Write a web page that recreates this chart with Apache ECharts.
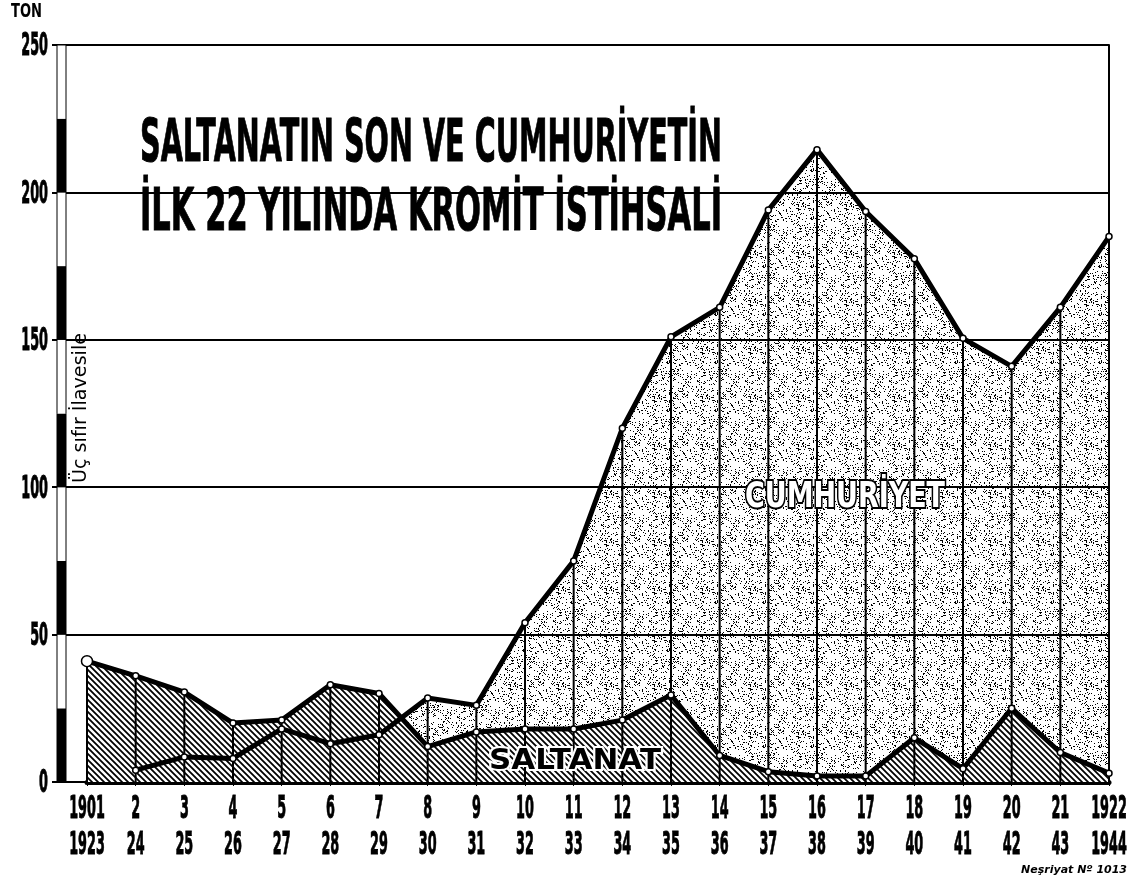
<!DOCTYPE html>
<html>
<head>
<meta charset="utf-8">
<script src="https://cdn.jsdelivr.net/npm/echarts@6/dist/echarts.min.js"></script>
<style>
  html, body { margin: 0; padding: 0; background: #fff; }
  #main { width: 1133px; height: 886px; }
</style>
</head>
<body>
<div id="main"></div>
<script>
// kategoriler: iki sira yil etiketi (Saltanat / Cumhuriyet)
var topYears = ['1901', '2', '3', '4', '5', '6', '7', '8', '9', '10', '11',
  '12', '13', '14', '15', '16', '17', '18', '19', '20', '21', '1922']
var bottomYears = ['1923', '24', '25', '26', '27', '28', '29', '30', '31', '32', '33',
  '34', '35', '36', '37', '38', '39', '40', '41', '42', '43', '1944']

// bin ton
var saltanat = [41, 36, 30.5, 20, 21, 33, 30, 12, 17, 18, 18, 21,
  29.5, 9, 3.5, 2, 2, 15, 4.5, 25, 10, 3]
var cumhuriyet = [null, 4, 8.5, 8, 18, 13, 16, 28.5, 26, 54, 75, 120,
  151, 161, 194, 214.5, 193.5, 177.5, 150.5, 141, 161, 185]

var yTicks = [0, 50, 100, 150, 200, 250]

// tarama deseni (saltanat)
function hatchPattern() {
  var s = 6
  var c = document.createElement('canvas')
  c.width = s
  c.height = s
  var g = c.getContext('2d')
  g.fillStyle = '#fff'
  g.fillRect(0, 0, s, s)
  g.strokeStyle = '#000'
  g.lineWidth = 1.8
  g.beginPath()
  g.moveTo(0, 0); g.lineTo(s, s)
  g.moveTo(-1, s - 1); g.lineTo(1, s + 1)
  g.moveTo(s - 1, -1); g.lineTo(s + 1, 1)
  g.stroke()
  return c
}

// noktali desen (cumhuriyet)
function stipplePattern() {
  var s = 48
  var c = document.createElement('canvas')
  c.width = s
  c.height = s
  var g = c.getContext('2d')
  g.fillStyle = '#000'
  for (var i = 0; i < s; i++) {
    for (var j = 0; j < s; j++) {
      var h = Math.imul(i * 73 + j * 151 + 17, 2654435761) >>> 0
      h = Math.imul(h ^ (h >>> 15), 2246822519) >>> 0
      h = (h ^ (h >>> 13)) >>> 0
      if (h % 100 < 13) g.fillRect(i, j, 1, 1)
    }
  }
  return c
}

var measureCtx = document.createElement('canvas').getContext('2d')
function fitScale(text, font, width) {
  measureCtx.font = font
  return width / measureCtx.measureText(text).width
}

var drops = saltanat.map(function (v, i) { return Math.max(v || 0, cumhuriyet[i] || 0) })
var salLineData = saltanat.map(function (v, i) {
  return i === 0 ? { value: v, symbolSize: 11 } : v
})

var titleFont = 'bold 59px "DejaVu Sans"'
var title1 = 'SALTANATIN SON VE CUMHURİYETİN'
var title2 = 'İLK 22 YILINDA KROMİT İSTİHSALİ'
var noteFont = '20px "DejaVu Sans"'
var note = 'Üç sıfır İlavesile'
var cumFont = 'bold 36px "DejaVu Sans"'
var salFont = 'bold 28px "DejaVu Sans"'
var tonFont = 'bold 19px "DejaVu Sans"'
var tickFont = 'bold 32px "DejaVu Sans"'
var TICK_SCALE = 0.4

var myChart = echarts.init(document.getElementById('main'))

var option = {
  animation: false,
  backgroundColor: '#fff',
  grid: [
    { left: 87, right: 24, top: 45, bottom: 104 },
    { left: 52, width: 35, top: 45, bottom: 104 },
    { left: 57, width: 9, top: 45, bottom: 104, show: true, borderColor: '#000', borderWidth: 1, z: 5 },
  ],
  xAxis: [
    {
      gridIndex: 0,
      type: 'category',
      data: topYears,
      boundaryGap: false,
      axisLine: { lineStyle: { color: '#000', width: 5 } },
      axisTick: { show: true, length: 4, lineStyle: { color: '#000', width: 1 } },
      axisLabel: { show: false },
      splitLine: { show: false },
    },
    { gridIndex: 1, type: 'value', show: false },
    { gridIndex: 2, type: 'value', show: false },
  ],
  yAxis: [
    {
      gridIndex: 0,
      type: 'value',
      min: 0,
      max: 250,
      interval: 50,
      axisLine: { show: false },
      axisTick: { show: false },
      axisLabel: { show: false },
      splitLine: { lineStyle: { color: '#000', width: 2 } },
    },
    {
      gridIndex: 0,
      type: 'value',
      position: 'right',
      min: 0,
      max: 250,
      interval: 50,
      axisLine: { show: true, lineStyle: { color: '#000', width: 2 } },
      axisTick: { show: false },
      axisLabel: { show: false },
      splitLine: { show: false },
    },
    {
      gridIndex: 1,
      type: 'value',
      min: 0,
      max: 250,
      interval: 50,
      axisLine: { show: false },
      axisTick: { show: false },
      axisLabel: { show: false },
      splitLine: { lineStyle: { color: '#000', width: 2 } },
    },
    {
      gridIndex: 2,
      type: 'value',
      min: 0,
      max: 250,
      interval: 25,
      axisLine: { show: false },
      axisTick: { show: false },
      axisLabel: { show: false },
      splitLine: { show: false },
      splitArea: { show: true, areaStyle: { color: ['#000', '#fff'] } },
    },
  ],
  series: [
    {
      name: 'Cumhuriyet alan',
      type: 'line',
      data: cumhuriyet,
      symbol: 'none',
      lineStyle: { width: 0 },
      areaStyle: { color: { image: stipplePattern(), repeat: 'repeat' }, opacity: 1 },
      silent: true,
      z: 2,
    },
    {
      name: 'Saltanat alan',
      type: 'line',
      data: saltanat,
      symbol: 'none',
      lineStyle: { width: 0 },
      areaStyle: { color: { image: hatchPattern(), repeat: 'repeat' }, opacity: 1 },
      silent: true,
      z: 3,
    },
    {
      name: 'dikey',
      type: 'bar',
      data: drops,
      barWidth: 2,
      itemStyle: { color: '#000' },
      silent: true,
      z: 4,
    },
    {
      name: 'Cumhuriyet',
      type: 'line',
      data: cumhuriyet,
      symbol: 'circle',
      symbolSize: 6,
      itemStyle: { color: '#fff', borderColor: '#000', borderWidth: 1.5 },
      lineStyle: { color: '#000', width: 5 },
      z: 5,
    },
    {
      name: 'Saltanat',
      type: 'line',
      data: salLineData,
      symbol: 'circle',
      symbolSize: 6,
      itemStyle: { color: '#fff', borderColor: '#000', borderWidth: 1.5 },
      lineStyle: { color: '#000', width: 5 },
      z: 6,
    },
  ],
}

myChart.setOption(option)

// dar yazi: metinler yatayda sikistirilir
function narrowText(text, x, y, align) {
  return {
    type: 'text', x: x, y: y, scaleX: TICK_SCALE, z: 10,
    style: { text: text, font: tickFont, fill: '#000', stroke: '#000', lineWidth: 1, align: align, verticalAlign: 'middle' },
  }
}

var graphics = [
  {
    type: 'text', x: 11, y: 12, scaleX: fitScale('TON', tonFont, 31),
    style: { text: 'TON', font: tonFont, fill: '#000', align: 'left', verticalAlign: 'middle' },
  },
  {
    type: 'text', x: 140, y: 146, scaleX: fitScale(title1, titleFont, 582),
    style: { text: title1, font: titleFont, fill: '#000', stroke: '#000', lineWidth: 1, align: 'left', verticalAlign: 'middle' },
  },
  {
    type: 'text', x: 140, y: 215, scaleX: fitScale(title2, titleFont, 582),
    style: { text: title2, font: titleFont, fill: '#000', stroke: '#000', lineWidth: 1, align: 'left', verticalAlign: 'middle' },
  },
  {
    type: 'text', x: 81, y: 408, rotation: Math.PI / 2, scaleX: fitScale(note, noteFont, 150),
    style: { text: note, font: noteFont, fill: '#000', align: 'center', verticalAlign: 'middle' },
    z: 10,
  },
  {
    type: 'text', x: 845, y: 498, scaleX: fitScale('CUMHURİYET', cumFont, 200),
    style: { text: 'CUMHURİYET', font: cumFont, fill: '#fff', stroke: '#000', lineWidth: 4, align: 'center', verticalAlign: 'middle' },
    z: 10,
  },
  {
    type: 'text', x: 575, y: 762, scaleX: fitScale('SALTANAT', salFont, 172),
    style: { text: 'SALTANAT', font: salFont, fill: '#000', stroke: '#fff', lineWidth: 4, align: 'center', verticalAlign: 'middle' },
    z: 10,
  },
  {
    type: 'text', right: 6, top: 865,
    style: { text: 'Neşriyat Nº 1013', font: 'italic bold 11px "DejaVu Sans"', fill: '#000' },
  },
]

topYears.forEach(function (t, i) {
  var x = myChart.convertToPixel({ xAxisIndex: 0 }, i)
  graphics.push(narrowText(t, x, 810, 'center'))
  graphics.push(narrowText(bottomYears[i], x, 846, 'center'))
})
yTicks.forEach(function (v) {
  var y = myChart.convertToPixel({ yAxisIndex: 0 }, v)
  graphics.push(narrowText(String(v), 48, y + 2, 'right'))
})

myChart.setOption({ graphic: graphics })
</script>
</body>
</html>
